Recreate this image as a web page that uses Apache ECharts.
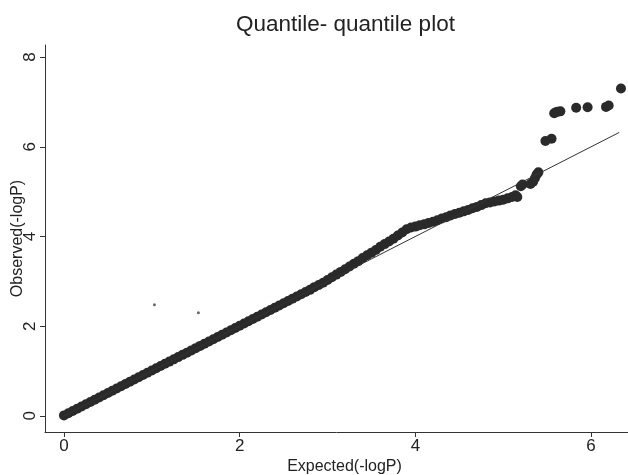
<!DOCTYPE html>
<html>
<head>
<meta charset="utf-8">
<script src="https://cdn.jsdelivr.net/npm/echarts@6/dist/echarts.min.js"></script>
<style>html,body{margin:0;padding:0;background:#fff}#c{width:628px;height:475px}</style>
</head>
<body>
<div id="c"></div>
<script>
// Expected (-logP) quantiles
const expected = [
 0.00,0.05,0.10,0.15,0.20,0.25,0.30,0.35,0.40,0.45,0.50,0.55,0.60,0.65,0.70,0.75,0.80,0.85,0.90,0.95,
 1.00,1.05,1.10,1.15,1.20,1.25,1.30,1.35,1.40,1.45,1.50,1.55,1.60,1.65,1.70,1.75,1.80,1.85,1.90,1.95,
 2.00,2.05,2.10,2.15,2.20,2.25,2.30,2.35,2.40,2.45,2.50,2.55,2.60,2.65,2.70,2.75,2.80,2.85,2.90,2.95,
 3.00,3.05,3.10,3.15,3.20,3.25,3.30,3.35,3.40,3.45,3.50,3.55,3.60,3.65,3.70,3.75,3.80,3.85,3.90,3.95,
 4.00,4.05,4.10,4.15,4.20,4.25,4.30,4.35,4.40,4.45,4.50,4.55,4.60,4.65,4.70,4.75,4.80,4.85,4.90,4.95,
 5.00,5.05,5.10,5.14,5.16,5.20,5.22,5.31,5.34,5.36,5.38,5.40,5.48,5.55,5.58,5.60,5.62,5.65,5.83,5.96,
 6.17,6.20,6.34
];
// Observed (-logP) values
const observed = [
 0.01,0.06,0.11,0.16,0.21,0.26,0.31,0.36,0.41,0.46,0.51,0.56,0.61,0.66,0.71,0.76,0.81,0.86,0.91,0.96,
 1.01,1.06,1.11,1.16,1.21,1.26,1.31,1.36,1.41,1.46,1.51,1.56,1.61,1.66,1.71,1.76,1.81,1.86,1.91,1.96,
 2.01,2.06,2.11,2.16,2.21,2.26,2.31,2.36,2.41,2.46,2.51,2.56,2.61,2.66,2.71,2.76,2.81,2.87,2.92,2.97,
 3.03,3.09,3.15,3.21,3.27,3.33,3.39,3.45,3.52,3.58,3.64,3.70,3.77,3.83,3.89,3.95,4.02,4.09,4.16,4.20,
 4.22,4.25,4.27,4.30,4.33,4.36,4.40,4.43,4.47,4.50,4.53,4.56,4.59,4.63,4.66,4.70,4.74,4.76,4.78,4.80,
 4.82,4.85,4.88,4.92,4.88,5.12,5.16,5.17,5.22,5.30,5.38,5.43,6.13,6.18,6.75,6.77,6.78,6.79,6.87,6.88,
 6.89,6.92,7.30
];
// stray scan marks
const strayX = [1.03, 1.53];
const strayY = [2.48, 2.30];
// reference line y = x
const refLine = [0, 6.32];
const xTicks = [0, 2, 4, 6];
const yTicks = [0, 2, 4, 6, 8];

const pts = expected.map((x, i) => [x, observed[i]]);
const stray = strayX.map((x, i) => [x, strayY[i]]);
const font = 'Liberation Sans, Arial, sans-serif';
const chart = echarts.init(document.getElementById('c'), null, {renderer: 'canvas'});
chart.setOption({
  animation: false,
  backgroundColor: '#fff',
  title: {
    text: 'Quantile- quantile plot',
    left: 231, top: 8,
    textStyle: {fontFamily: font, fontSize: 22.5, fontWeight: 'normal', color: '#222'}
  },
  grid: {left: 45, right: 0, top: 45, bottom: 43, containLabel: false, outerBoundsMode: 'none'},
  xAxis: {
    type: 'value', min: -0.216, max: 6.42,
    name: 'Expected(-logP)', nameLocation: 'middle', nameGap: 27, nameMoveOverlap: false,
    nameTextStyle: {fontFamily: font, fontSize: 16, color: '#222', padding: [0, 0, 0, 16]},
    splitLine: {show: false},
    axisLine: {show: true, onZero: false, lineStyle: {color: '#333', width: 1}},
    axisTick: {show: true, inside: false, length: 5, customValues: xTicks, lineStyle: {color: '#333'}},
    axisLabel: {customValues: xTicks, fontFamily: font, fontSize: 17, color: '#222', margin: 6}
  },
  yAxis: {
    type: 'value', min: -0.36, max: 8.27,
    name: 'Observed(-logP)', nameLocation: 'middle', nameGap: 19, nameMoveOverlap: false,
    nameTextStyle: {fontFamily: font, fontSize: 16, color: '#222'},
    splitLine: {show: false},
    axisLine: {show: true, onZero: false, lineStyle: {color: '#333', width: 1}},
    axisTick: {show: true, inside: false, length: 5, customValues: yTicks, lineStyle: {color: '#333'}},
    axisLabel: {customValues: yTicks, rotate: 90, fontFamily: font, fontSize: 17, color: '#222', margin: 6}
  },
  series: [
    {
      type: 'line', data: refLine.map(v => [v, v]), symbol: 'none',
      lineStyle: {color: '#333', width: 1}, z: 3
    },
    {
      type: 'scatter', data: pts, symbol: 'circle', symbolSize: 10,
      itemStyle: {color: '#2a2a2a', opacity: 1}, z: 2
    },
    {
      type: 'scatter', data: stray, symbol: 'circle', symbolSize: 3,
      itemStyle: {color: '#444'}, z: 2
    }
  ]
});
</script>
</body>
</html>
